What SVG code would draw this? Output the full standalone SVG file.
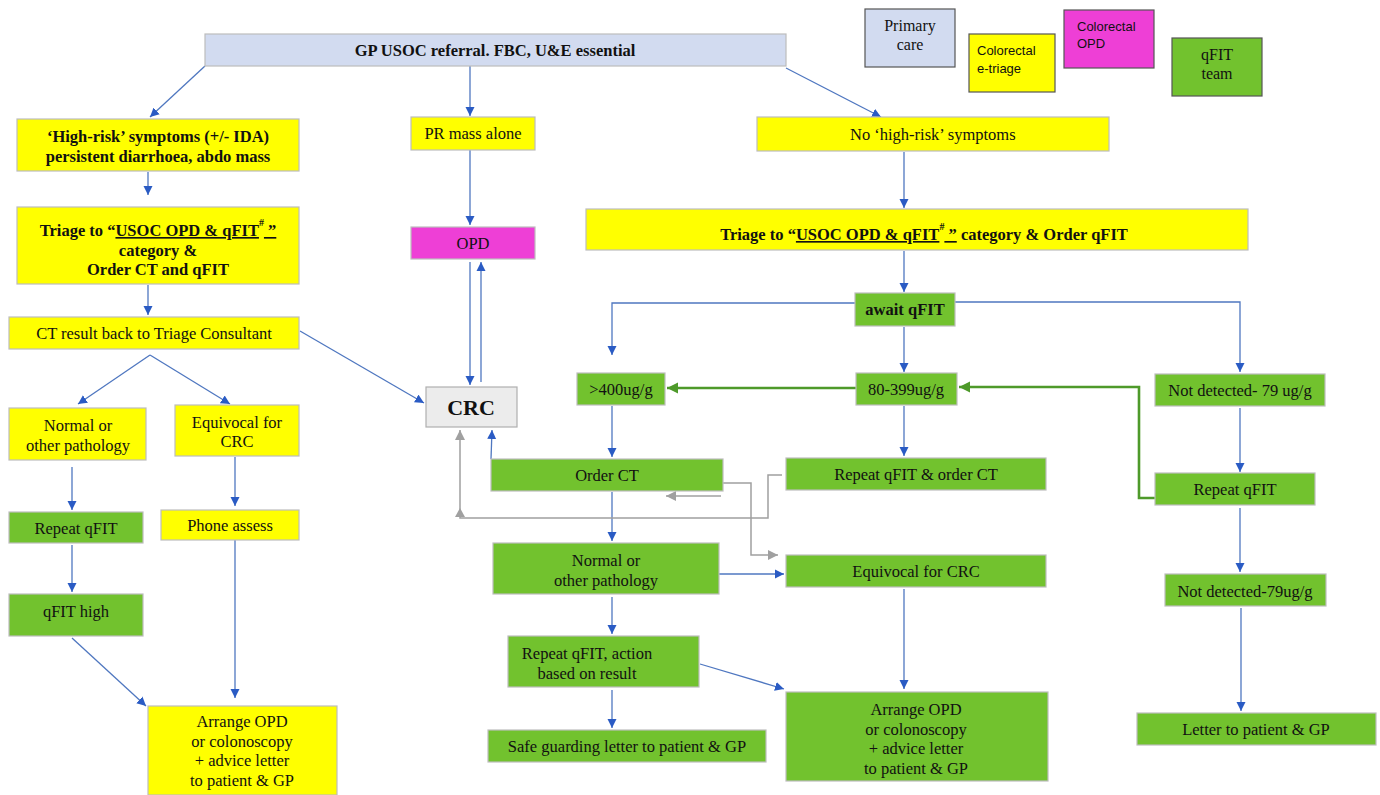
<svg xmlns="http://www.w3.org/2000/svg" width="1380" height="795" viewBox="0 0 1380 795">
<defs>
<style>
.b{stroke:#bdbdbd;stroke-width:1.2}
.y{fill:#ffff00}
.g{fill:#72c22e}
.m{fill:#ee3fd6}
.p{fill:#d2dbf0}
.lg{stroke:#555;stroke-width:1.2}
text{font-family:"Liberation Serif","Times New Roman",serif;font-size:16.5px;fill:#111;text-anchor:middle}
.bd{font-weight:bold}
.s{text-anchor:start;font-family:"Liberation Sans",Arial,sans-serif;font-size:13px}
.c{fill:none;stroke:#4f77c0;stroke-width:1.3}
.cg{fill:none;stroke:#4e9a2a;stroke-width:2.6}
.cr{fill:none;stroke:#a0a0a0;stroke-width:1.5}
</style>
<marker id="ab" viewBox="0 0 10 10" refX="10" refY="5" markerWidth="9" markerHeight="10" markerUnits="userSpaceOnUse" orient="auto"><path d="M0,0 L10,5 L0,10 Z" fill="#2a5bc4"/></marker>
<marker id="ag" viewBox="0 0 10 10" refX="10" refY="5" markerWidth="11" markerHeight="12" markerUnits="userSpaceOnUse" orient="auto"><path d="M0,0 L10,5 L0,10 Z" fill="#4e9a2a"/></marker>
<marker id="ar" viewBox="0 0 10 10" refX="10" refY="5" markerWidth="10" markerHeight="10" markerUnits="userSpaceOnUse" orient="auto"><path d="M0,0 L10,5 L0,10 Z" fill="#a0a0a0"/></marker>
</defs>
<rect width="1380" height="795" fill="#ffffff"/>

<g id="connectors">
<line class="c" x1="205" y1="66" x2="150" y2="117" marker-end="url(#ab)"/>
<line class="c" x1="470" y1="66" x2="470" y2="116" marker-end="url(#ab)"/>
<line class="c" x1="786" y1="68" x2="881" y2="117" marker-end="url(#ab)"/>
<line class="c" x1="148" y1="172" x2="148" y2="195" marker-end="url(#ab)"/>
<line class="c" x1="148" y1="285" x2="148" y2="315" marker-end="url(#ab)"/>
<line class="c" x1="150" y1="355" x2="78" y2="404" marker-end="url(#ab)"/>
<line class="c" x1="150" y1="355" x2="230" y2="404" marker-end="url(#ab)"/>
<line class="c" x1="300" y1="331" x2="424" y2="403" marker-end="url(#ab)"/>
<line class="c" x1="470" y1="150" x2="470" y2="225" marker-end="url(#ab)"/>
<line class="c" x1="470" y1="262" x2="470" y2="385" marker-end="url(#ab)"/>
<line class="c" x1="481" y1="382" x2="481" y2="262" marker-end="url(#ab)"/>
<line class="c" x1="904" y1="152" x2="904" y2="208" marker-end="url(#ab)"/>
<line class="c" x1="904" y1="251" x2="904" y2="292" marker-end="url(#ab)"/>
<polyline class="c" points="855,303 612,303 612,355" marker-end="url(#ab)"/>
<polyline class="c" points="955,302 1240,302 1240,372" marker-end="url(#ab)"/>
<line class="c" x1="904" y1="327" x2="904" y2="372" marker-end="url(#ab)"/>
<line class="cg" x1="856" y1="388" x2="667" y2="388" marker-end="url(#ag)"/>
<polyline class="cg" points="1155,498 1139,498 1139,387 959,387" marker-end="url(#ag)"/>
<line class="c" x1="612" y1="406" x2="612" y2="457" marker-end="url(#ab)"/>
<line class="c" x1="904" y1="406" x2="904" y2="456" marker-end="url(#ab)"/>
<line class="c" x1="1240" y1="408" x2="1240" y2="472" marker-end="url(#ab)"/>
<line class="c" x1="1240" y1="508" x2="1240" y2="572" marker-end="url(#ab)"/>
<line class="c" x1="1241" y1="608" x2="1241" y2="711" marker-end="url(#ab)"/>
<line class="c" x1="612" y1="492" x2="612" y2="541" marker-end="url(#ab)"/>
<line class="c" x1="491" y1="459" x2="492" y2="430" marker-end="url(#ab)"/>
<polyline class="cr" points="723,483 751,483 751,555 778,555" marker-end="url(#ar)"/>
<polyline class="cr" points="782,475 768,475 768,518 460,518 460,430" marker-end="url(#ar)"/>
<path d="M455,517 L460,508 L465,517 Z" fill="#a0a0a0"/>
<line class="cr" x1="721" y1="496" x2="666" y2="496" marker-end="url(#ar)"/>
<line class="c" x1="719" y1="574" x2="784" y2="574" marker-end="url(#ab)"/>
<line class="c" x1="612" y1="597" x2="612" y2="634" marker-end="url(#ab)"/>
<line class="c" x1="612" y1="690" x2="612" y2="728" marker-end="url(#ab)"/>
<line class="c" x1="700" y1="664" x2="784" y2="689" marker-end="url(#ab)"/>
<line class="c" x1="904" y1="589" x2="904" y2="689" marker-end="url(#ab)"/>
<line class="c" x1="72" y1="467" x2="72" y2="510" marker-end="url(#ab)"/>
<line class="c" x1="72" y1="545" x2="72" y2="592" marker-end="url(#ab)"/>
<line class="c" x1="72" y1="638" x2="146" y2="706" marker-end="url(#ab)"/>
<line class="c" x1="235" y1="457" x2="235" y2="506" marker-end="url(#ab)"/>
<line class="c" x1="235" y1="540" x2="235" y2="698" marker-end="url(#ab)"/>
</g>

<g id="gp"><rect class="p b" x="205" y="34" width="581" height="32"/><text class="bd" x="495" y="56">GP USOC referral. FBC, U&amp;E essential</text></g>
<g id="highrisk"><rect class="y b" x="17" y="119" width="282" height="52"/><text class="bd" x="158" y="142">‘High-risk’ symptoms (+/- IDA)</text><text class="bd" x="158" y="162">persistent diarrhoea, abdo mass</text></g>
<g id="prmass"><rect class="y b" x="411" y="117" width="124" height="33"/><text x="473" y="139">PR mass alone</text></g>
<g id="nohighrisk"><rect class="y b" x="757" y="117" width="352" height="34"/><text x="850" y="140" style="text-anchor:start">No ‘high-risk’ symptoms</text></g>
<g id="triageleft"><rect class="y b" x="17" y="207" width="282" height="77"/><text class="bd" x="158" y="236">Triage to “<tspan text-decoration="underline">USOC OPD &amp; qFIT</tspan><tspan font-size="10" dy="-10">#</tspan><tspan dy="10" text-decoration="underline"> ”</tspan></text><text class="bd" x="158" y="256">category &amp;</text><text class="bd" x="158" y="275">Order CT and qFIT</text></g>
<g id="opd"><rect class="m b" x="411" y="227" width="124" height="32"/><text x="473" y="249">OPD</text></g>
<g id="triageright"><rect class="y b" x="586" y="209" width="662" height="41"/><text class="bd" x="924" y="240">Triage to “<tspan text-decoration="underline">USOC OPD &amp; qFIT</tspan><tspan font-size="10" dy="-10">#</tspan><tspan dy="10" text-decoration="underline"> ”</tspan> category &amp; Order qFIT</text></g>
<g id="ctresult"><rect class="y b" x="9" y="317" width="290" height="32"/><text x="154" y="339">CT result back to Triage Consultant</text></g>
<g id="awaitqfit"><rect class="g b" x="855" y="293" width="100" height="33"/><text class="bd" x="905" y="315">await qFIT</text></g>
<g id="crc"><rect fill="#ececec" stroke="#b0b0b0" stroke-width="1.2" x="426" y="387" width="91" height="40"/><text class="bd" x="471" y="415" style="font-size:22px">CRC</text></g>
<g id="gt400"><rect class="g b" x="577" y="373" width="88" height="32"/><text x="621" y="395">&gt;400ug/g</text></g>
<g id="r80399"><rect class="g b" x="856" y="373" width="101" height="32"/><text x="906" y="395">80-399ug/g</text></g>
<g id="notdet1"><rect class="g b" x="1155" y="374" width="170" height="32"/><text x="1240" y="396">Not detected- 79 ug/g</text></g>
<g id="normalleft"><rect class="y b" x="9" y="408" width="137" height="52"/><text x="78" y="431">Normal or</text><text x="78" y="451">other pathology</text></g>
<g id="equivleft"><rect class="y b" x="175" y="405" width="124" height="51"/><text x="237" y="428">Equivocal for</text><text x="237" y="447">CRC</text></g>
<g id="orderct"><rect class="g b" x="491" y="459" width="232" height="32"/><text x="607" y="481">Order CT</text></g>
<g id="repeatorder"><rect class="g b" x="786" y="458" width="260" height="32"/><text x="916" y="480">Repeat qFIT &amp; order CT</text></g>
<g id="repeatright"><rect class="g b" x="1155" y="473" width="160" height="32"/><text x="1235" y="495">Repeat qFIT</text></g>
<g id="repeatleft"><rect class="g b" x="9" y="512" width="134" height="31"/><text x="76" y="534">Repeat qFIT</text></g>
<g id="phone"><rect class="y b" x="161" y="510" width="138" height="30"/><text x="230" y="531">Phone assess</text></g>
<g id="normalmid"><rect class="g b" x="493" y="543" width="226" height="51"/><text x="606" y="566">Normal or</text><text x="606" y="586">other pathology</text></g>
<g id="equivmid"><rect class="g b" x="786" y="555" width="260" height="32"/><text x="916" y="577">Equivocal for CRC</text></g>
<g id="notdet2"><rect class="g b" x="1165" y="574" width="161" height="32"/><text x="1245" y="597">Not detected-79ug/g</text></g>
<g id="qfithigh"><rect class="g b" x="9" y="594" width="134" height="42"/><text x="76" y="617">qFIT high</text></g>
<g id="repeataction"><rect class="g b" x="508" y="636" width="191" height="51"/><text x="587" y="659">Repeat qFIT, action</text><text x="587" y="679">based on result</text></g>
<g id="arrangeleft"><rect class="y b" x="148" y="706" width="189" height="89"/><text x="242" y="727">Arrange OPD</text><text x="242" y="747">or colonoscopy</text><text x="242" y="766">+ advice letter</text><text x="242" y="786">to patient &amp; GP</text></g>
<g id="arrangemid"><rect class="g b" x="786" y="692" width="262" height="89"/><text x="916" y="715">Arrange OPD</text><text x="916" y="735">or colonoscopy</text><text x="916" y="754">+ advice letter</text><text x="916" y="774">to patient &amp; GP</text></g>
<g id="safeguard"><rect class="g b" x="488" y="730" width="278" height="32"/><text x="627" y="752">Safe guarding letter to patient &amp; GP</text></g>
<g id="letter"><rect class="g b" x="1137" y="713" width="239" height="32"/><text x="1256" y="735">Letter to patient &amp; GP</text></g>

<g id="legend-primary"><rect class="p lg" x="865" y="9" width="90" height="58"/><text x="910" y="31" style="font-size:16px">Primary</text><text x="910" y="50" style="font-size:16px">care</text></g>
<g id="legend-etriage"><rect class="y lg" x="969" y="34" width="86" height="58"/><text class="s" x="977" y="55">Colorectal</text><text class="s" x="977" y="73">e-triage</text></g>
<g id="legend-opd"><rect class="m lg" x="1064" y="10" width="90" height="58"/><text class="s" x="1077" y="31">Colorectal</text><text class="s" x="1077" y="48">OPD</text></g>
<g id="legend-qfit"><rect class="g lg" x="1172" y="38" width="90" height="58"/><text x="1217" y="60" style="font-size:16px">qFIT</text><text x="1217" y="79" style="font-size:16px">team</text></g>
</svg>
